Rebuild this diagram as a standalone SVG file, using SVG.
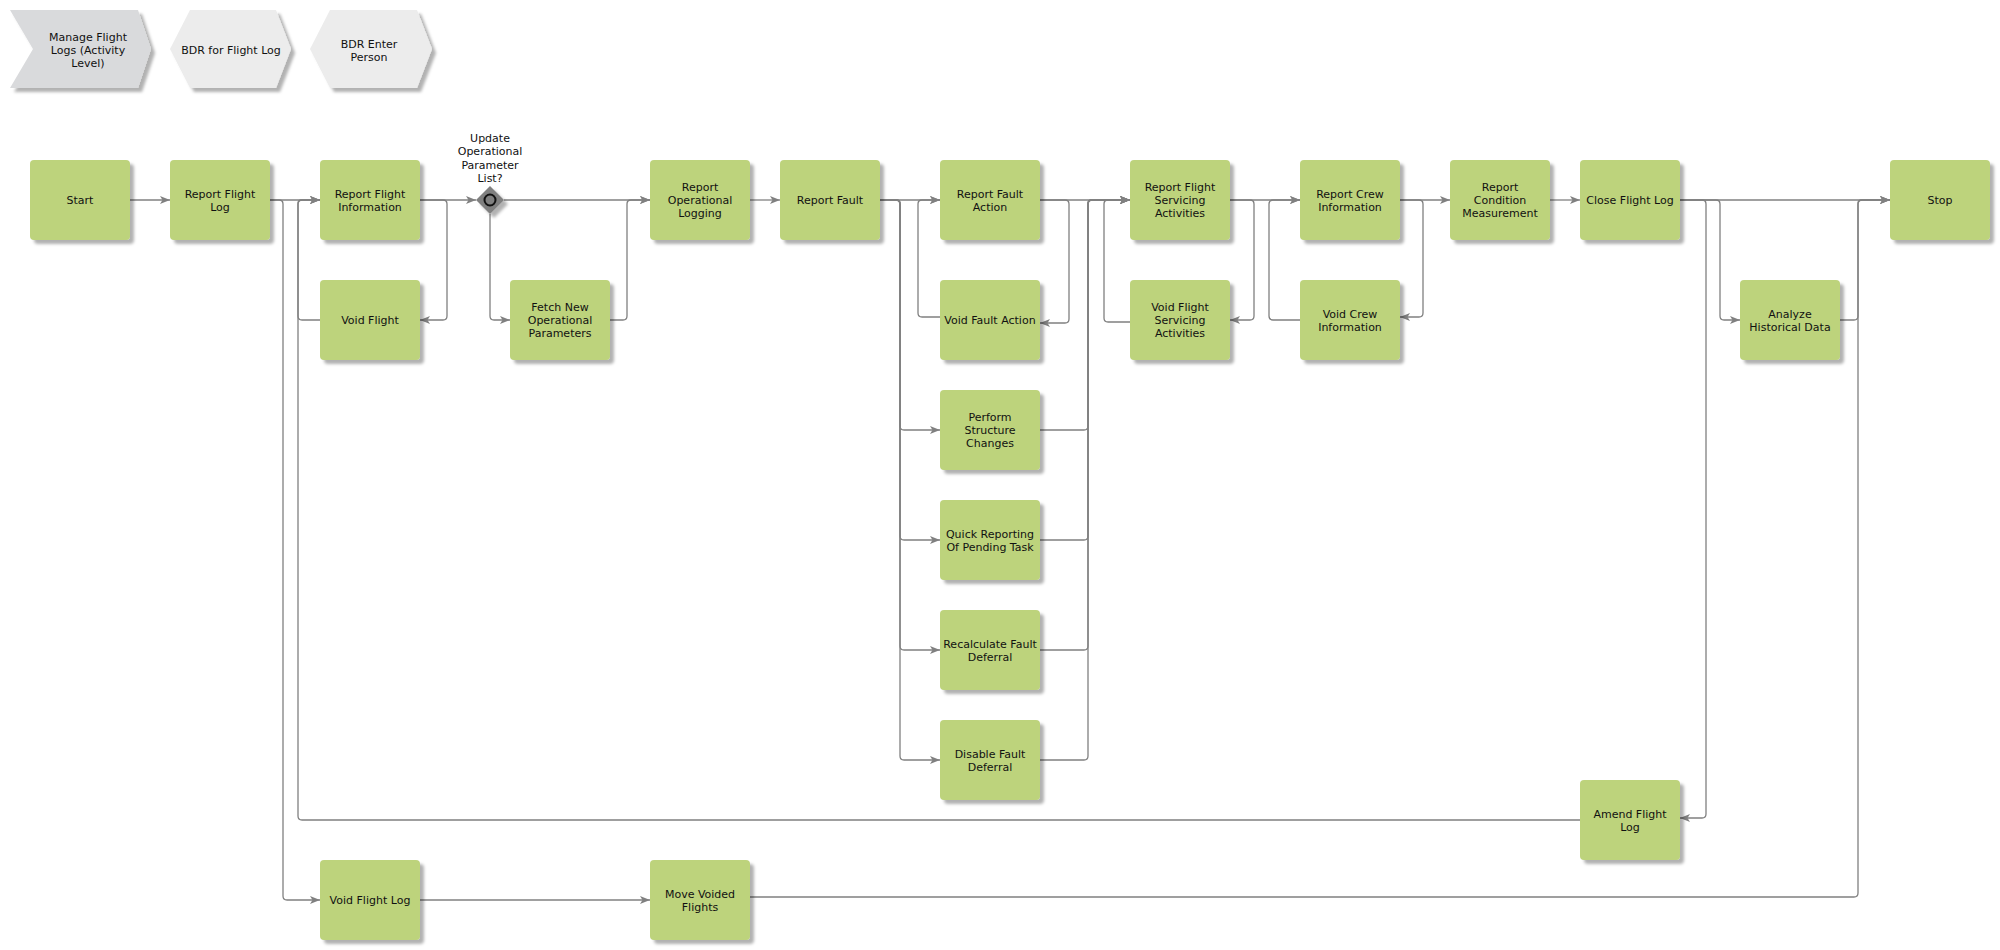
<svg xmlns="http://www.w3.org/2000/svg" width="2000" height="950" viewBox="0 0 2000 950">
<style>
.t{font-family:"DejaVu Sans",Verdana,sans-serif;font-size:11px;fill:#111;text-anchor:middle}
.box{fill:#bdd37c}
.c{fill:none;stroke:#808080;stroke-width:1.3}
.a{marker-end:url(#ar)}
</style>
<defs>
<filter id="sh" x="-20%" y="-20%" width="140%" height="140%">
<feDropShadow dx="4" dy="4" stdDeviation="1.5" flood-color="#000" flood-opacity="0.3"/>
</filter>
<marker id="ar" markerUnits="userSpaceOnUse" markerWidth="11" markerHeight="9" refX="10" refY="4" orient="auto">
<path d="M0,0 L10,4 L0,8 L2.5,4 Z" fill="#808080"/>
</marker>
</defs>
<rect width="2000" height="950" fill="#fff"/>

<g id="hdr1"><polygon points="10,10 138,10 151,49 138,88 10,88 33,49" fill="#d9dadc" filter="url(#sh)"/>
<text class="t" x="88" y="41">Manage Flight<tspan x="88" dy="13">Logs (Activity</tspan><tspan x="88" dy="13">Level)</tspan></text></g>
<g id="hdr2"><polygon points="170,49 190,10 276,10 291,49 276,88 190,88" fill="#ececec" filter="url(#sh)"/>
<text class="t" x="231" y="54">BDR for Flight Log</text></g>
<g id="hdr3"><polygon points="310,49 330,10 417,10 432,49 417,88 330,88" fill="#ececec" filter="url(#sh)"/>
<text class="t" x="369" y="48">BDR Enter<tspan x="369" dy="13">Person</tspan></text></g>

<g id="connectors">
<path class="c a" d="M130,200 H170"/>
<path class="c a" d="M270,200 H320"/>
<path class="c a" d="M270,200 H279 Q283,200 283,204 V896 Q283,900 287,900 H320"/>
<path class="c a" d="M420,200 H476"/>
<path class="c a" d="M420,200 H443 Q447,200 447,204 V316 Q447,320 443,320 H420"/>
<path class="c a" d="M320,320 H302 Q298,320 298,316 V204 Q298,200 302,200 H320"/>
<path class="c a" d="M504,200 H650"/>
<path class="c a" d="M490,214 V316 Q490,320 494,320 H510"/>
<path class="c a" d="M610,320 H623 Q627,320 627,316 V204 Q627,200 631,200 H650"/>
<path class="c a" d="M750,200 H780"/>
<path class="c a" d="M880,200 H940"/>
<path class="c a" d="M880,200 H896 Q900,200 900,204 V426 Q900,430 904,430 H940"/>
<path class="c a" d="M880,200 H896 Q900,200 900,204 V536 Q900,540 904,540 H940"/>
<path class="c a" d="M880,200 H896 Q900,200 900,204 V646 Q900,650 904,650 H940"/>
<path class="c a" d="M880,200 H896 Q900,200 900,204 V756 Q900,760 904,760 H940"/>
<path class="c a" d="M1040,200 H1065 Q1069,200 1069,204 V319 Q1069,323 1065,323 H1040"/>
<path class="c a" d="M940,317 H922 Q918,317 918,313 V204 Q918,200 922,200 H940"/>
<path class="c a" d="M1040,200 H1130"/>
<path class="c a" d="M1040,430 H1084 Q1088,430 1088,426 V204 Q1088,200 1092,200 H1130"/>
<path class="c a" d="M1040,540 H1084 Q1088,540 1088,536 V204 Q1088,200 1092,200 H1130"/>
<path class="c a" d="M1040,650 H1084 Q1088,650 1088,646 V204 Q1088,200 1092,200 H1130"/>
<path class="c a" d="M1040,760 H1084 Q1088,760 1088,756 V204 Q1088,200 1092,200 H1130"/>
<path class="c a" d="M1230,200 H1250 Q1254,200 1254,204 V316 Q1254,320 1250,320 H1230"/>
<path class="c a" d="M1130,322 H1108 Q1104,322 1104,318 V204 Q1104,200 1108,200 H1130"/>
<path class="c a" d="M1230,200 H1300"/>
<path class="c a" d="M1400,200 H1419 Q1423,200 1423,204 V313 Q1423,317 1419,317 H1400"/>
<path class="c a" d="M1300,320 H1273 Q1269,320 1269,316 V204 Q1269,200 1273,200 H1300"/>
<path class="c a" d="M1400,200 H1450"/>
<path class="c a" d="M1550,200 H1580"/>
<path class="c a" d="M1680,200 H1890"/>
<path class="c a" d="M1680,200 H1716 Q1720,200 1720,204 V316 Q1720,320 1724,320 H1740"/>
<path class="c a" d="M1840,320 H1854 Q1858,320 1858,316 V204 Q1858,200 1862,200 H1890"/>
<path class="c a" d="M1680,200 H1702 Q1706,200 1706,204 V814 Q1706,818 1702,818 H1680"/>
<path class="c a" d="M1580,820 H302 Q298,820 298,816 V204 Q298,200 302,200 H320"/>
<path class="c a" d="M420,900 H650"/>
<path class="c a" d="M750,897 H1854 Q1858,897 1858,893 V204 Q1858,200 1862,200 H1890"/>
</g>

<g id="gateway">
<polygon points="490,186 504,200 490,214 476,200" fill="#808080" filter="url(#sh)"/>
<circle cx="490" cy="200" r="5.5" fill="#808080" stroke="#111" stroke-width="2"/>
<text class="t" x="490" y="142">Update<tspan x="490" dy="13.3">Operational</tspan><tspan x="490" dy="13.3">Parameter</tspan><tspan x="490" dy="13.3">List?</tspan></text>
</g>

<g id="start"><rect class="box" x="30" y="160" width="100" height="80" rx="4" filter="url(#sh)"/><text class="t" x="80" y="204">Start</text></g>
<g id="report-flight-log"><rect class="box" x="170" y="160" width="100" height="80" rx="4" filter="url(#sh)"/><text class="t" x="220" y="197.5">Report Flight<tspan x="220" dy="13">Log</tspan></text></g>
<g id="report-flight-information"><rect class="box" x="320" y="160" width="100" height="80" rx="4" filter="url(#sh)"/><text class="t" x="370" y="197.5">Report Flight<tspan x="370" dy="13">Information</tspan></text></g>
<g id="void-flight"><rect class="box" x="320" y="280" width="100" height="80" rx="4" filter="url(#sh)"/><text class="t" x="370" y="324">Void Flight</text></g>
<g id="fetch-params"><rect class="box" x="510" y="280" width="100" height="80" rx="4" filter="url(#sh)"/><text class="t" x="560" y="311">Fetch New<tspan x="560" dy="13">Operational</tspan><tspan x="560" dy="13">Parameters</tspan></text></g>
<g id="report-operational-logging"><rect class="box" x="650" y="160" width="100" height="80" rx="4" filter="url(#sh)"/><text class="t" x="700" y="191">Report<tspan x="700" dy="13">Operational</tspan><tspan x="700" dy="13">Logging</tspan></text></g>
<g id="report-fault"><rect class="box" x="780" y="160" width="100" height="80" rx="4" filter="url(#sh)"/><text class="t" x="830" y="204">Report Fault</text></g>
<g id="report-fault-action"><rect class="box" x="940" y="160" width="100" height="80" rx="4" filter="url(#sh)"/><text class="t" x="990" y="197.5">Report Fault<tspan x="990" dy="13">Action</tspan></text></g>
<g id="void-fault-action"><rect class="box" x="940" y="280" width="100" height="80" rx="4" filter="url(#sh)"/><text class="t" x="990" y="324">Void Fault Action</text></g>
<g id="perform-structure-changes"><rect class="box" x="940" y="390" width="100" height="80" rx="4" filter="url(#sh)"/><text class="t" x="990" y="421">Perform<tspan x="990" dy="13">Structure</tspan><tspan x="990" dy="13">Changes</tspan></text></g>
<g id="quick-reporting"><rect class="box" x="940" y="500" width="100" height="80" rx="4" filter="url(#sh)"/><text class="t" x="990" y="537.5">Quick Reporting<tspan x="990" dy="13">Of Pending Task</tspan></text></g>
<g id="recalculate-fault-deferral"><rect class="box" x="940" y="610" width="100" height="80" rx="4" filter="url(#sh)"/><text class="t" x="990" y="647.5">Recalculate Fault<tspan x="990" dy="13">Deferral</tspan></text></g>
<g id="disable-fault-deferral"><rect class="box" x="940" y="720" width="100" height="80" rx="4" filter="url(#sh)"/><text class="t" x="990" y="757.5">Disable Fault<tspan x="990" dy="13">Deferral</tspan></text></g>
<g id="report-flight-servicing"><rect class="box" x="1130" y="160" width="100" height="80" rx="4" filter="url(#sh)"/><text class="t" x="1180" y="191">Report Flight<tspan x="1180" dy="13">Servicing</tspan><tspan x="1180" dy="13">Activities</tspan></text></g>
<g id="void-flight-servicing"><rect class="box" x="1130" y="280" width="100" height="80" rx="4" filter="url(#sh)"/><text class="t" x="1180" y="311">Void Flight<tspan x="1180" dy="13">Servicing</tspan><tspan x="1180" dy="13">Activities</tspan></text></g>
<g id="report-crew-information"><rect class="box" x="1300" y="160" width="100" height="80" rx="4" filter="url(#sh)"/><text class="t" x="1350" y="197.5">Report Crew<tspan x="1350" dy="13">Information</tspan></text></g>
<g id="void-crew-information"><rect class="box" x="1300" y="280" width="100" height="80" rx="4" filter="url(#sh)"/><text class="t" x="1350" y="317.5">Void Crew<tspan x="1350" dy="13">Information</tspan></text></g>
<g id="report-condition-measurement"><rect class="box" x="1450" y="160" width="100" height="80" rx="4" filter="url(#sh)"/><text class="t" x="1500" y="191">Report<tspan x="1500" dy="13">Condition</tspan><tspan x="1500" dy="13">Measurement</tspan></text></g>
<g id="close-flight-log"><rect class="box" x="1580" y="160" width="100" height="80" rx="4" filter="url(#sh)"/><text class="t" x="1630" y="204">Close Flight Log</text></g>
<g id="analyze-historical-data"><rect class="box" x="1740" y="280" width="100" height="80" rx="4" filter="url(#sh)"/><text class="t" x="1790" y="317.5">Analyze<tspan x="1790" dy="13">Historical Data</tspan></text></g>
<g id="stop"><rect class="box" x="1890" y="160" width="100" height="80" rx="4" filter="url(#sh)"/><text class="t" x="1940" y="204">Stop</text></g>
<g id="amend-flight-log"><rect class="box" x="1580" y="780" width="100" height="80" rx="4" filter="url(#sh)"/><text class="t" x="1630" y="817.5">Amend Flight<tspan x="1630" dy="13">Log</tspan></text></g>
<g id="void-flight-log"><rect class="box" x="320" y="860" width="100" height="80" rx="4" filter="url(#sh)"/><text class="t" x="370" y="904">Void Flight Log</text></g>
<g id="move-voided-flights"><rect class="box" x="650" y="860" width="100" height="80" rx="4" filter="url(#sh)"/><text class="t" x="700" y="897.5">Move Voided<tspan x="700" dy="13">Flights</tspan></text></g>
</svg>
